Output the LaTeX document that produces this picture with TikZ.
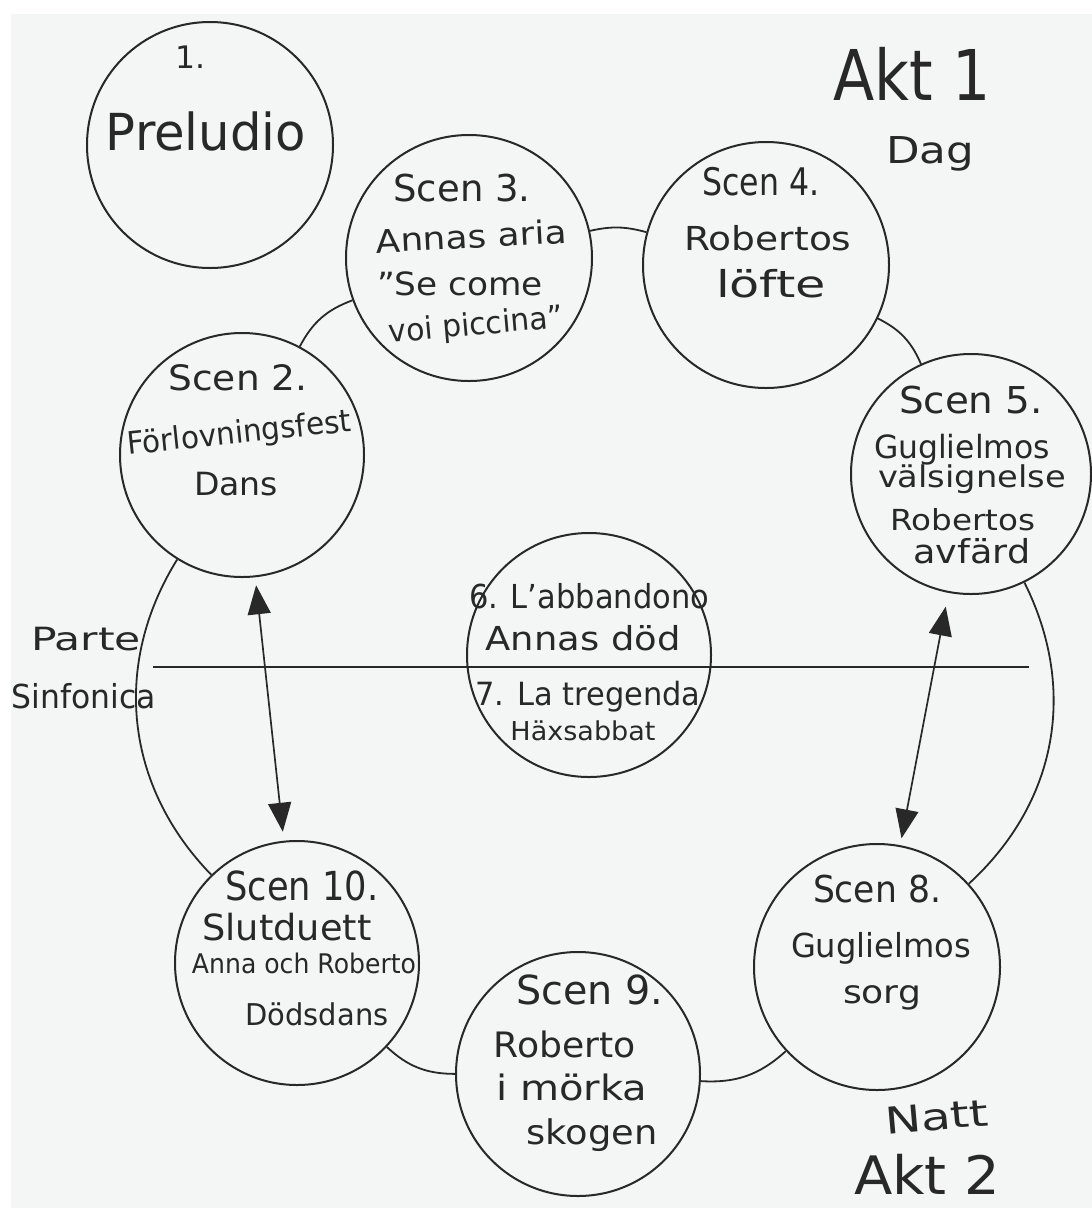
\documentclass[tikz,border=0pt]{standalone}
\usepackage{fontspec}
\setmainfont{DejaVu Sans}
\usepackage{graphicx}
\usetikzlibrary{arrows.meta}
\definecolor{ink}{RGB}{40,40,40}
\definecolor{paper}{RGB}{244,245,245}
\newcommand\hw[3]{\resizebox{#2pt}{\height}{\fontsize{#1pt}{#1pt}\selectfont #3}}
\begin{document}
\begin{tikzpicture}[x=1pt,y=-1pt,
  circ/.style={circle,draw=ink,line width=2pt,inner sep=0pt,minimum size=#1},
  ring/.style={draw=ink,line width=1.8pt},
  tx/.style={anchor=base,inner sep=0pt,text=ink},
  dblarrow/.style={draw=ink,line width=1.7pt,{Triangle[length=29pt,width=23pt]}-{Triangle[length=29pt,width=23pt]}}]
\useasboundingbox (0,0) rectangle (1092,1208);
\fill[white] (0,0) rectangle (1092,1208);
\fill[paper] (11,14) rectangle (1092,1208);

% circles
\node[circ=246pt] (pre) at (210,145) {};
\node[circ=246pt] (s3) at (469,258) {};
\node[circ=246pt] (s4) at (766,265) {};
\node[circ=244pt] (s2) at (242,455) {};
\node[circ=240pt] (s5) at (971,474) {};
\node[circ=244pt] (c67) at (589,655) {};
\node[circ=244pt] (s10) at (297,963) {};
\node[circ=244pt] (s9) at (578,1074) {};
\node[circ=246pt] (s8) at (877,967) {};

% ring
\draw[ring] (s2) to[bend left=21] (s3);
\draw[ring] (s3) to[bend left=14] (s4);
\draw[ring] (s4) to[bend left=20] (s5);
\draw[ring] (s5) to[bend left=37] (s8);
\draw[ring] (s8) to[bend left=23] (s9);
\draw[ring] (s9) to[bend left=21.5] (s10);
\draw[ring] (s10) to[bend left=38] (s2);

% horizontal divider
\coordinate (hl) at (153,667);
\coordinate (hr) at (1029,667);
\draw[ring,line width=1.4pt] (hl) -- (hr);

% arrows
\draw[dblarrow,shorten <=8pt,shorten >=9pt] (s2) -- (s10);
\draw[dblarrow,shorten <=14pt,shorten >=7pt] (s5) -- (s8);

% texts
\node[tx] (t1a) at (190,68) {\hw{31}{30}{1.}};
\node[tx] (t1b) at (206,150) {\hw{51}{200}{Preludio}};

\node[tx] (t3a) at (462,201) {\hw{37}{137}{Scen 3.}};
\node[tx,rotate=3] (t3b) at (472,248) {\hw{32}{191}{Annas aria}};
\node[tx] (t3c) at (460,295) {\hw{32}{166}{"Se come}};
\node[tx,rotate=5] (t3d) at (477,335) {\hw{31}{175}{voi piccina"}};

\node[tx] (t4a) at (761,195) {\hw{38}{117}{Scen 4.}};
\node[tx] (t4b) at (768,250) {\hw{33}{167}{Robertos}};
\node[tx] (t4c) at (771,297) {\hw{37}{110}{löfte}};

\node[tx] (t2a) at (238,390) {\hw{35}{139}{Scen 2.}};
\node[tx,rotate=6] (t2b) at (240,443) {\hw{31}{225}{Förlovningsfest}};
\node[tx] (t2c) at (236,495) {\hw{32}{84}{Dans}};

\node[tx] (t5a) at (971,413) {\hw{37}{144}{Scen 5.}};
\node[tx] (t5b) at (962,458) {\hw{32}{176}{Guglielmos}};
\node[tx] (t5c) at (972,487) {\hw{30}{188}{välsignelse}};
\node[tx] (t5d) at (963,530) {\hw{29}{145}{Robertos}};
\node[tx] (t5e) at (972,563) {\hw{33}{117}{avfärd}};

\node[tx] (t6a) at (589,608) {\hw{33}{240}{6. L'abbandono}};
\node[tx] (t6b) at (583,650) {\hw{33}{195}{Annas död}};
\node[tx] (t7a) at (588,705) {\hw{32}{225}{7. La tregenda}};
\node[tx] (t7b) at (583,740) {\hw{26}{145}{Häxsabbat}};

\node[tx] (tp1) at (86,650) {\hw{32}{110}{Parte}};
\node[tx] (tp2) at (84,708) {\hw{33}{144}{Sinfonica}};

\node[tx] (t10a) at (302,900) {\hw{40}{153}{Scen 10.}};
\node[tx] (t10b) at (287,940) {\hw{36}{169}{Slutduett}};
\node[tx] (t10c) at (304,973) {\hw{27}{224}{Anna och Roberto}};
\node[tx] (t10d) at (317,1025) {\hw{30}{143}{Dödsdans}};

\node[tx] (t9a) at (590,1004) {\hw{40}{147}{Scen 9.}};
\node[tx] (t9b) at (565,1057) {\hw{35}{142}{Roberto}};
\node[tx] (t9c) at (572,1100) {\hw{35}{151}{i mörka}};
\node[tx] (t9d) at (592,1144) {\hw{34}{131}{skogen}};

\node[tx] (t8a) at (877,902) {\hw{37}{128}{Scen 8.}};
\node[tx] (t8b) at (881,957) {\hw{33}{180}{Guglielmos}};
\node[tx] (t8c) at (882,1003) {\hw{32}{78}{sorg}};

\node[tx] (akt1) at (912,100) {\hw{70}{157}{Akt 1}};
\node[tx] (dag) at (930,163) {\hw{37}{88}{Dag}};
\node[tx,rotate=5] (natt) at (938,1130) {\hw{37}{104}{Natt}};
\node[tx] (akt2) at (927,1194) {\hw{53}{146}{Akt 2}};
\end{tikzpicture}
\end{document}
